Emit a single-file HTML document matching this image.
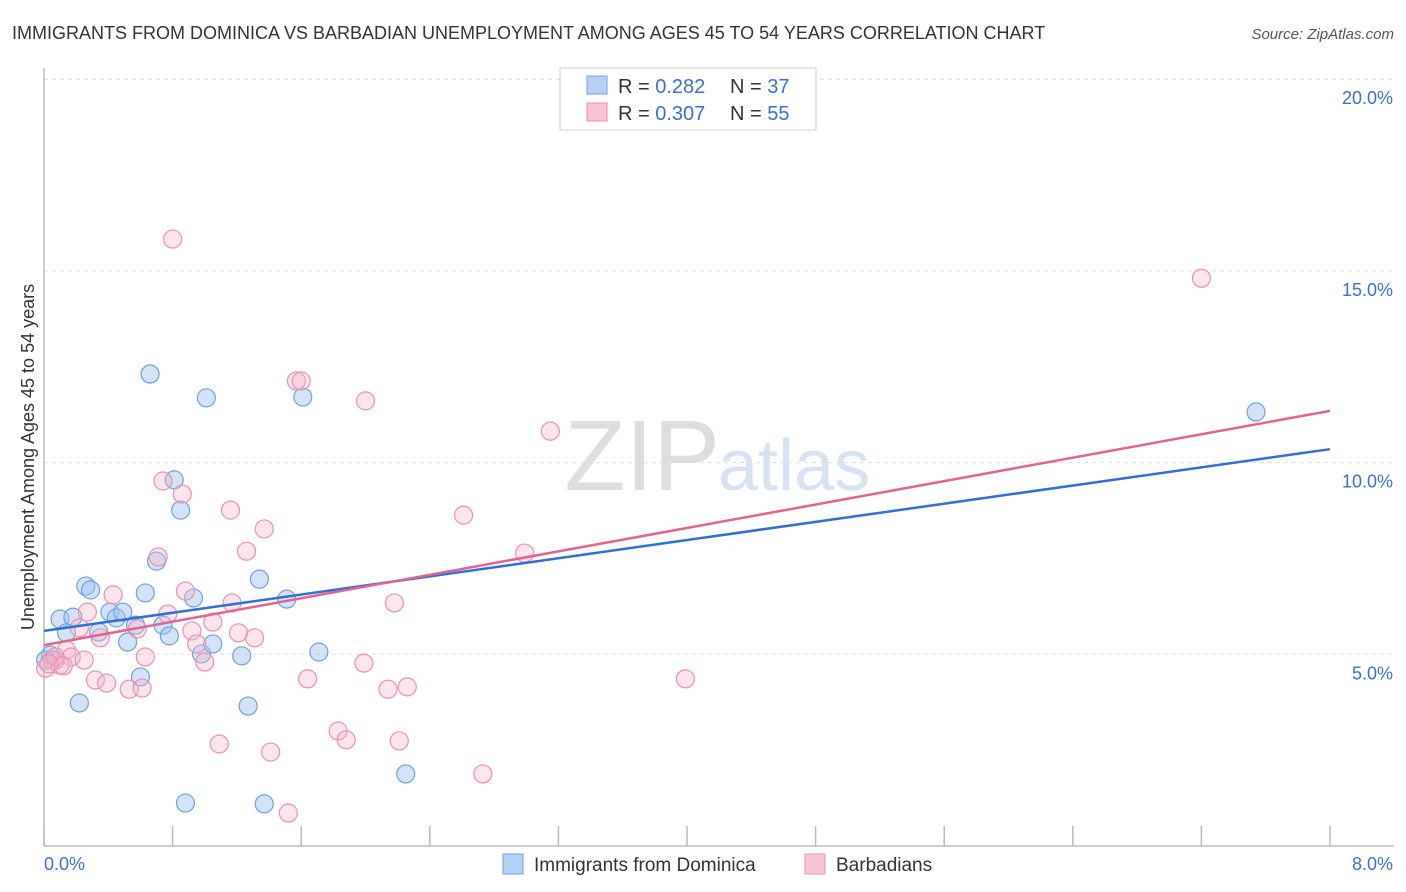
<!DOCTYPE html>
<html><head><meta charset="utf-8"><style>
body{margin:0;background:#fff;font-family:"Liberation Sans",sans-serif;}
#wrap{position:relative;width:1406px;height:892px;overflow:hidden;}
svg text{font-family:"Liberation Sans",sans-serif;}
</style></head><body>
<div id="wrap">
<svg id="c" width="1406" height="892">
<text x="12" y="39" font-size="18" fill="#333">IMMIGRANTS FROM DOMINICA VS BARBADIAN UNEMPLOYMENT AMONG AGES 45 TO 54 YEARS CORRELATION CHART</text>
<text x="1394" y="39" font-size="15" fill="#555" font-style="italic" text-anchor="end">Source: ZipAtlas.com</text>
<text x="720" y="490" font-size="100" fill="#ddd" text-anchor="end" font-family="Liberation Serif">ZIP</text>
<text x="718" y="490" font-size="72" fill="#d6e2f4">atlas</text>
<text transform="translate(34,457) rotate(-90)" font-size="18" fill="#333" text-anchor="middle">Unemployment Among Ages 45 to 54 years</text>
<g id="grid"></g><g id="pts"></g><g id="lines"></g>
<g>
<rect x="560" y="68" width="256" height="62" fill="#fff" stroke="#ccc"/>
<rect x="587" y="76" width="20" height="18" fill="#b7d1f5" stroke="#6fa0e0"/>
<rect x="587" y="103" width="20" height="18" fill="#f9c4d5" stroke="#e890b0"/>
<text x="618" y="93" font-size="20" fill="#333">R = <tspan fill="#3b6fd0">0.282</tspan></text>
<text x="730" y="93" font-size="20" fill="#333">N = <tspan fill="#3b6fd0">37</tspan></text>
<text x="618" y="120" font-size="20" fill="#333">R = <tspan fill="#3b6fd0">0.307</tspan></text>
<text x="730" y="120" font-size="20" fill="#333">N = <tspan fill="#3b6fd0">55</tspan></text>
</g>
<g>
<rect x="503" y="854" width="20" height="20" fill="#b7d1f5" stroke="#6fa0e0"/>
<text x="534" y="871" font-size="19" fill="#333">Immigrants from Dominica</text>
<rect x="805" y="854" width="20" height="20" fill="#f9c4d5" stroke="#e890b0"/>
<text x="836" y="871" font-size="19" fill="#333">Barbadians</text>
</g>
</svg>
</div>
<script>
const blueX=[0.10,0.18,0.14,0.26,0.29,0.04,0.07,0.22,0.34,0.41,0.45,0.49,0.52,0.57,0.60,0.63,0.66,0.70,0.74,0.78,0.81,0.85,0.88,0.93,0.98,1.01,1.05,1.23,1.27,1.34,1.37,1.51,1.61,1.71,2.25,7.54,0.01];
const blueY=[5.92,5.97,5.56,6.78,6.68,4.98,4.85,3.73,5.58,6.10,5.95,6.10,5.32,5.76,4.41,6.60,12.31,7.43,5.76,5.48,9.55,8.76,1.12,6.47,5.01,11.69,5.27,4.96,3.65,6.96,1.10,6.44,11.71,5.06,1.88,11.32,4.85];
const pinkX=[0.80,7.20,1.57,1.60,2.00,3.15,0.74,0.86,2.61,1.16,1.37,0.71,1.26,2.99,0.88,0.43,0.27,0.77,1.17,2.18,1.05,0.22,0.58,0.92,1.21,1.31,0.35,0.95,0.14,0.63,0.05,0.17,0.25,1.00,1.99,0.01,0.10,0.32,0.39,0.53,0.61,1.64,2.14,2.26,3.99,1.83,1.88,2.21,1.09,1.41,2.73,1.52,0.07,0.03,0.12];
const pinkY=[15.83,14.81,12.13,12.13,11.61,10.82,9.52,9.18,8.63,8.76,8.27,7.54,7.69,7.64,6.65,6.55,6.10,6.05,6.34,6.34,5.84,5.69,5.66,5.61,5.56,5.43,5.43,5.27,5.11,4.93,4.85,4.93,4.85,4.80,4.77,4.64,4.72,4.33,4.25,4.09,4.12,4.36,4.09,4.15,4.36,3.00,2.77,2.74,2.66,2.45,1.88,0.86,4.93,4.75,4.70];
const blueTrend=[5.61,10.35];
const pinkTrend=[5.24,11.35];
const yTicks=[5,10,15,20];
const yTickLabels=["5.0%","10.0%","15.0%","20.0%"];
const xTicks=[0,0.8,1.6,2.4,3.2,4,4.8,5.6,6.4,7.2,8];
const xs=v=>44+v/8*1286;
const ys=v=>846-v/5*191.7;
const NS="http://www.w3.org/2000/svg";
function mk(tag,attrs,parent){const e=document.createElementNS(NS,tag);for(const k in attrs)e.setAttribute(k,attrs[k]);parent.appendChild(e);return e;}
const g=document.getElementById('grid');
yTicks.forEach((t,i)=>{
 const l=mk('line',{x1:44,x2:1394,y1:ys(t),y2:ys(t),stroke:'#ddd','stroke-dasharray':'4,4'},g);
 
 
 const tx=mk('text',{x:1393,y:ys(t)+25,'font-size':18,fill:'#3b6fd0','text-anchor':'end'},g);
 tx.textContent=yTickLabels[i];
 
 
});
const topLine=mk('line',{x1:44,x2:1394,y1:79,y2:79,stroke:'#ddd','stroke-dasharray':'4,4'},g);


const ax=mk('line',{x1:44,x2:44,y1:68,y2:846,stroke:'#bbb','stroke-width':1.5},g);


const bx=mk('line',{x1:44,x2:1394,y1:846,y2:846,stroke:'#bbb','stroke-width':1.5},g);


xTicks.forEach(t=>{
 const l=mk('line',{x1:xs(t),x2:xs(t),y1:826,y2:846,stroke:'#bbb','stroke-width':1.5},g);
 
 
});
const xl0=mk('text',{x:44,y:870,'font-size':18,fill:'#3b6fd0'},g);xl0.textContent='0.0%';


const xl1=mk('text',{x:1393,y:870,'font-size':18,fill:'#3b6fd0','text-anchor':'end'},g);xl1.textContent='8.0%';


const p=document.getElementById('pts');
blueX.forEach((x,i)=>{
 const c=mk('circle',{cx:xs(x),cy:ys(blueY[i]),r:9,fill:'rgba(160,196,240,0.45)',stroke:'#6fa0e0','stroke-width':1.2},p);
 
 
});
pinkX.forEach((x,i)=>{
 const c=mk('circle',{cx:xs(x),cy:ys(pinkY[i]),r:9,fill:'rgba(245,180,200,0.35)',stroke:'#e890b0','stroke-width':1.2},p);
 
 
});
const L=document.getElementById('lines');
const bl=mk('line',{x1:xs(0),y1:ys(blueTrend[0]),x2:xs(8),y2:ys(blueTrend[1]),stroke:'#2f6fd6','stroke-width':2.5},L);


const pl=mk('line',{x1:xs(0),y1:ys(pinkTrend[0]),x2:xs(8),y2:ys(pinkTrend[1]),stroke:'#e4628e','stroke-width':2.5},L);


</script>
</body></html>
